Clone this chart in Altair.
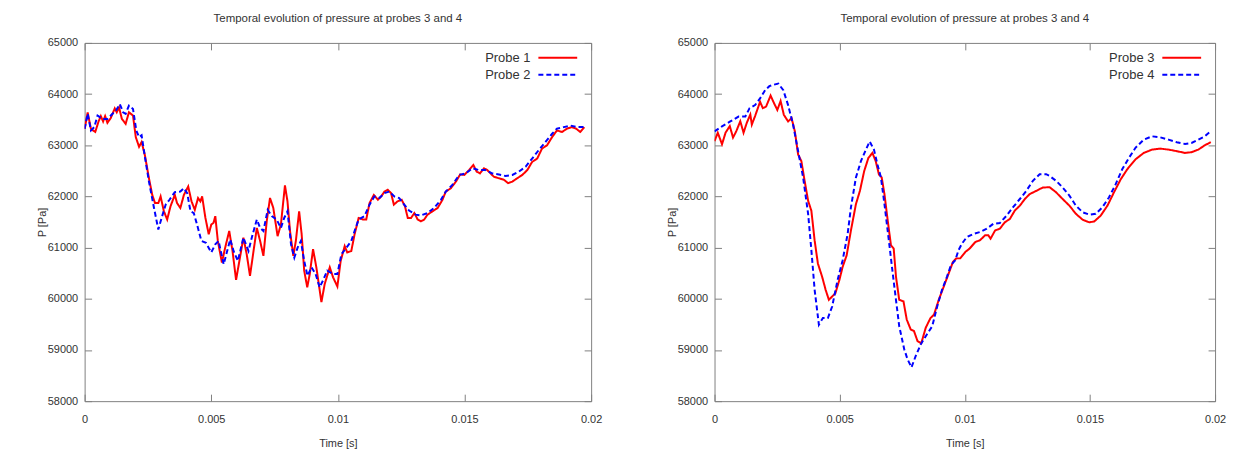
import altair as alt
import pandas as pd

# ---------------- data (time in ms, pressure in Pa) ----------------
probe1_time_ms = [0, 0.12, 0.25, 0.42, 0.55, 0.64, 0.73, 0.81, 0.90, 1.03,
                  1.19, 1.27, 1.36, 1.47, 1.62, 1.75, 1.91, 2.02, 2.15, 2.25,
                  2.38, 2.54, 2.67, 2.78, 2.91, 3.00, 3.13, 3.26, 3.39, 3.56,
                  3.65, 3.78, 3.92, 4.09, 4.22, 4.35, 4.48, 4.57, 4.64, 4.77,
                  4.90, 5.00, 5.09, 5.16, 5.26, 5.42, 5.55, 5.71, 5.84, 5.98,
                  6.10, 6.27, 6.40, 6.53, 6.67, 6.80, 6.93, 7.06, 7.19, 7.32,
                  7.45, 7.62, 7.75, 7.91, 8.01, 8.11, 8.24, 8.34, 8.47, 8.57,
                  8.67, 8.79, 8.89, 9.02, 9.15, 9.35, 9.48, 9.68, 9.81, 9.98,
                  10.11, 10.27, 10.37, 10.53, 10.66, 10.82, 10.99, 11.12, 11.25, 11.42,
                  11.58, 11.71, 11.84, 11.97, 12.10, 12.21, 12.36, 12.52, 12.65, 12.76,
                  12.89, 13.02, 13.15, 13.28, 13.41, 13.54, 13.74, 13.94, 14.13, 14.26,
                  14.46, 14.66, 14.83, 14.99, 15.18, 15.35, 15.48, 15.61, 15.77, 15.90,
                  16.03, 16.16, 16.36, 16.56, 16.72, 16.89, 17.08, 17.28, 17.48, 17.67,
                  17.87, 18.06, 18.26, 18.46, 18.65, 18.85, 19.05, 19.24, 19.41, 19.57,
                  19.73]
probe1_pa = [63320, 63640, 63320, 63260, 63465, 63570, 63465, 63570, 63440, 63530,
             63720, 63645, 63740, 63515, 63420, 63645, 63580, 63160, 62970, 63065,
             62805, 62355, 62030, 61870, 61870, 62000, 61710, 61550, 61805, 62030,
             61870, 61775, 62030, 62195, 61905, 61740, 61970, 61905, 62000, 61580,
             61260, 61450, 61485, 61615, 61130, 60710, 61000, 61325, 60935, 60370,
             60710, 61195, 60870, 60450, 60935, 61385, 61130, 60840, 61515, 61970,
             61775, 61225, 61450, 62215, 61905, 61325, 60840, 61130, 61710, 61260,
             60550, 60225, 60485, 60970, 60615, 59935, 60290, 60615, 60420, 60240,
             60740, 61030, 60905, 60935, 61260, 61580, 61550, 61550, 61870, 62030,
             61935, 62000, 62095, 62130, 62065, 61840, 61905, 61935, 61805, 61580,
             61580, 61675, 61550, 61515, 61550, 61645, 61710, 61775, 61935, 62095,
             62160, 62290, 62430, 62420, 62515, 62615, 62485, 62450, 62550, 62515,
             62450, 62385, 62355, 62325, 62260, 62290, 62355, 62420, 62515, 62675,
             62740, 62935, 63000, 63160, 63290, 63260, 63325, 63355, 63325, 63260,
             63355]

probe2_time_ms = [0, 0.12, 0.25, 0.38, 0.51, 0.71, 0.90, 1.10, 1.23, 1.39,
                  1.52, 1.62, 1.75, 1.91, 2.04, 2.15, 2.25, 2.38, 2.54, 2.74,
                  2.91, 3.04, 3.20, 3.35, 3.56, 3.78, 3.92, 4.05, 4.18, 4.31,
                  4.44, 4.61, 4.79, 5.00, 5.16, 5.29, 5.49, 5.75, 5.88, 6.05,
                  6.27, 6.47, 6.60, 6.80,
                  6.93, 7.06, 7.23, 7.39, 7.58, 7.75, 7.88, 8.01, 8.15, 8.28,
                  8.41, 8.54, 8.67, 8.80, 8.96, 9.12, 9.28, 9.41, 9.58, 9.81,
                  9.98, 10.14, 10.34, 10.53, 10.66, 10.82, 11.05, 11.25, 11.44, 11.64,
                  11.84, 12.03, 12.23, 12.42, 12.62, 12.81, 13.07, 13.28, 13.54, 13.80,
                  14.07, 14.26, 14.52, 14.79, 15.05, 15.31, 15.57, 15.83, 16.09, 16.36,
                  16.62, 16.89, 17.15, 17.41, 17.67, 17.93, 18.20, 18.46, 18.65, 18.92,
                  19.18, 19.44, 19.70]
probe2_pa = [63320, 63615, 63290, 63355, 63580, 63515, 63515, 63615, 63675, 63805,
             63645, 63615, 63775, 63710, 63290, 63160, 63195, 62775, 62290, 61775,
             61355, 61580, 61840, 61935, 62085, 62095, 62160, 62065, 61710, 61675,
             61450, 61130, 61095, 60905, 61065, 61130, 60675, 61160, 60935, 60740,
             61195, 60935, 61195, 61550,
             61385, 61325, 61740, 61615, 61550, 61385, 61580, 61710, 61065, 60805,
             61000, 61130, 60740, 60450, 60615, 60485, 60225, 60355, 60550, 60485,
             60485, 60870, 61000, 61130, 61325, 61550, 61615, 61840, 62000, 61970,
             62065, 62095, 62000, 61970, 61840, 61725, 61645, 61630, 61675, 61775,
             61935, 62095, 62225, 62420, 62450, 62550, 62515, 62515, 62450, 62430,
             62400, 62420, 62485, 62580, 62740, 62905, 63065, 63225, 63325, 63355,
             63385, 63355, 63355]

probe3_time_ms = [0, 0.13, 0.30, 0.44, 0.61, 0.74, 0.87, 1.03, 1.16, 1.29,
                  1.43, 1.49, 1.62, 1.82, 1.93, 2.06, 2.24, 2.38, 2.51, 2.64,
                  2.77, 2.94, 3.08, 3.21, 3.34, 3.47, 3.60, 3.74, 3.87, 4.00,
                  4.13, 4.30, 4.44, 4.57, 4.70, 4.83, 4.99, 5.12, 5.28, 5.45,
                  5.65, 5.81, 5.98, 6.15, 6.31, 6.44, 6.57, 6.68, 6.79, 6.92,
                  7.05, 7.16, 7.25, 7.38, 7.55, 7.68, 7.84, 7.97, 8.11, 8.26,
                  8.44, 8.63, 8.77, 8.96, 9.16, 9.36, 9.53, 9.66, 9.82, 10.02,
                  10.19, 10.42, 10.61, 10.81, 10.94, 11.03, 11.21, 11.40, 11.60, 11.80,
                  12.00, 12.20, 12.40, 12.59, 12.86, 13.12, 13.39, 13.65, 13.91, 14.18,
                  14.44, 14.71, 14.97, 15.17, 15.43, 15.70, 15.96, 16.23, 16.49, 16.82,
                  17.15, 17.48, 17.81, 18.14, 18.47, 18.80, 19.06, 19.33, 19.59, 19.83]
probe3_pa = [63080, 63245, 63020, 63245, 63375, 63150, 63275, 63470, 63245, 63440,
             63600, 63405, 63570, 63850, 63725, 63755, 63970, 63820, 63690, 63865,
             63595, 63465, 63530, 63270, 62820, 62690, 62305, 61915, 61720, 61140,
             60690, 60430, 60175, 59980, 60045, 60110, 60370, 60625, 60850, 61335,
             61850, 62110, 62495, 62755, 62850, 62690, 62430, 62370, 62045, 61530,
             61045, 60980, 60435, 59980, 59950, 59595, 59400, 59370, 59175, 59130,
             59435, 59625, 59690, 59980, 60240, 60500, 60725, 60790, 60790, 60915,
             60980, 61110, 61145, 61240, 61240, 61175, 61335, 61370, 61495, 61560,
             61725, 61820, 61950, 62045, 62110, 62175, 62180, 62080, 61950, 61820,
             61660, 61545, 61495, 61510, 61625, 61820, 62080, 62335, 62530, 62725,
             62850, 62915, 62935, 62915, 62885, 62850, 62865, 62915, 63000, 63060]

probe4_time_ms = [0, 0.30, 0.63, 0.96, 1.23, 1.40, 1.62, 1.82, 2.02, 2.19,
                  2.38, 2.55, 2.75, 2.94, 3.14, 3.34, 3.54, 3.74, 3.87, 4.00,
                  4.17, 4.33, 4.53, 4.70, 4.92, 5.12, 5.32, 5.45, 5.65, 5.85,
                  6.05, 6.20, 6.37, 6.51, 6.65, 6.79, 6.98, 7.12, 7.25, 7.38,
                  7.58, 7.71, 7.87, 8.04, 8.24, 8.44, 8.70, 8.90, 9.09, 9.29,
                  9.45, 9.62, 9.75, 9.89, 10.08, 10.35, 10.61, 10.88, 11.14, 11.40,
                  11.67, 11.93, 12.20, 12.46, 12.72, 12.99, 13.25, 13.39, 13.65, 13.91,
                  14.18, 14.44, 14.71, 14.97, 15.23, 15.50, 15.76, 16.03, 16.29, 16.56,
                  16.82, 17.15, 17.48, 17.81, 18.14, 18.47, 18.80, 19.06, 19.33, 19.59,
                  19.79]
probe4_pa = [63270, 63370, 63465, 63560, 63560, 63725, 63785, 63915, 64075, 64155,
             64185, 64205, 64075, 63785, 63400, 62885, 62370, 61660, 60950, 60175,
             59495, 59625, 59625, 59850, 60370, 60755, 61270, 61785, 62370, 62690,
             62915, 63075, 62915, 62625, 62370, 61850, 61080, 60500, 59980, 59465,
             59015, 58820, 58660, 58885, 59110, 59270, 59465, 59855, 60175, 60435,
             60660, 60755, 60950, 61080, 61205, 61270, 61305, 61370, 61465, 61480,
             61625, 61790, 61950, 62110, 62305, 62435, 62435, 62400, 62305, 62175,
             62015, 61820, 61690, 61645, 61660, 61790, 61980, 62240, 62530, 62755,
             62950, 63110, 63175, 63155, 63110, 63060, 63025, 63045, 63110, 63175,
             63260]

x_ticks = [0, 0.005, 0.01, 0.015, 0.02]
y_ticks = [58000, 59000, 60000, 61000, 62000, 63000, 64000, 65000]
title_text = "Temporal evolution of pressure at probes 3 and 4"

FONT = "Liberation Sans"
TEXT = "#333333"
FRAME = "#808080"


def panel(ta, pa, tb, pb, names, width):
    df = pd.DataFrame({
        "Time": [t / 1000 for t in ta] + [t / 1000 for t in tb],
        "P": pa + pb,
        "Probe": [names[0]] * len(ta) + [names[1]] * len(tb),
    })
    xs = alt.Scale(domain=[0, 0.02], nice=False)
    ys = alt.Scale(domain=[58000, 65000], nice=False, zero=False)
    # long horizontal line sample drawn inside a small (13 px) symbol box
    leg = alt.Legend(title=None, orient="none", legendX=width - 41, legendY=7.5,
                     direction="vertical", symbolType="M-3,0H3", symbolSize=169,
                     symbolStrokeWidth=2, labelAlign="right",
                     labelOffset=alt.ExprRef(expr="-35"),
                     labelFont=FONT, labelFontSize=13, labelColor=TEXT,
                     padding=0, rowPadding=2)
    base = alt.Chart(df)
    lines = base.mark_line(strokeWidth=2, clip=True).encode(
        x=alt.X("Time:Q", scale=xs,
                axis=alt.Axis(orient="bottom", values=x_ticks, format="~g", title="Time [s]",
                              offset=-7, tickSize=7, domain=False, grid=False, labelFlush=False,
                              labelPadding=12, titlePadding=14)),
        y=alt.Y("P:Q", scale=ys,
                axis=alt.Axis(orient="left", values=y_ticks, format="d", title="P [Pa]",
                              offset=-7, tickSize=7, domain=False, grid=False, labelFlush=False,
                              labelPadding=7, titlePadding=0)),
        color=alt.Color("Probe:N", scale=alt.Scale(domain=names, range=["#ff0000", "#0000ff"]),
                        legend=leg),
        strokeDash=alt.StrokeDash("Probe:N", scale=alt.Scale(domain=names, range=[[1, 0], [5, 3]]),
                                  legend=leg),
    )
    mirror = base.mark_line(opacity=0).encode(
        x=alt.X("Time:Q", scale=xs,
                axis=alt.Axis(orient="top", values=x_ticks, labels=False, title=None,
                              offset=-7, tickSize=7, domain=False, grid=False)),
        y=alt.Y("P:Q", scale=ys,
                axis=alt.Axis(orient="right", values=y_ticks, labels=False, title=None,
                              offset=-7, tickSize=7, domain=False, grid=False)),
    )
    return alt.layer(lines, mirror).resolve_axis(x="independent", y="independent").properties(
        width=width, height=360,
        title=alt.TitleParams(title_text, font=FONT, fontSize=11.5, fontWeight="normal",
                              color=TEXT, offset=13, anchor="middle"),
    )


left = panel(probe1_time_ms, probe1_pa, probe2_time_ms, probe2_pa, ["Probe 1", "Probe 2"], 509)
right = panel(probe3_time_ms, probe3_pa, probe4_time_ms, probe4_pa, ["Probe 3", "Probe 4"], 503)

chart = alt.hconcat(left, right, spacing=62).resolve_scale(
    color="independent", strokeDash="independent"
).properties(
    padding={"left": 27, "top": 3, "right": 0, "bottom": 0}
).configure_view(stroke=FRAME, strokeWidth=1).configure_axis(
    tickColor=FRAME, tickWidth=1, labelColor=TEXT, labelFont=FONT, labelFontSize=11,
    titleFont=FONT, titleFontSize=11, titleFontWeight="normal", titleColor=TEXT,
)

chart.save("out.html", embed_options={"renderer": "svg", "actions": False})
